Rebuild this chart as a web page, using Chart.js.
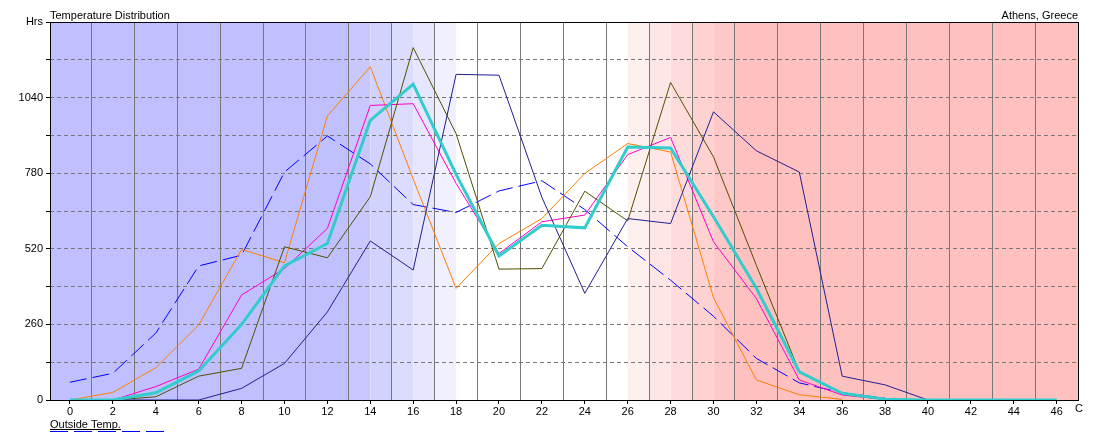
<!DOCTYPE html>
<html>
<head>
<meta charset="utf-8">
<title>Temperature Distribution</title>
<script src="https://cdn.jsdelivr.net/npm/chart.js@4/dist/chart.umd.min.js"></script>
<style>
  html, body { margin: 0; padding: 0; background: #fff; }
  .wrap { position: relative; width: 1094px; height: 442px; }
</style>
</head>
<body>
<div class="wrap"><canvas id="tempChart"></canvas></div>
<script>
// temperature bins (C) and hours per bin
const temps = [0, 2, 4, 6, 8, 10, 12, 14, 16, 18, 20, 22, 24, 26, 28, 30, 32, 34, 36, 38, 40, 42, 44, 46];

const blueHrs    = [61, 92, 230, 461, 498, 784, 908, 812, 672, 645, 719, 754, 655, 527, 412, 288, 143, 59, 25, 6, null, null, null, null];
const orangeHrs  = [0, 26, 111, 258, 518, 472, 977, 1146, 760, 384, 538, 624, 779, 882, 853, 352, 69, 18, 2, null, null, null, null, null];
const magentaHrs = [null, 0, 46, 106, 361, 452, 590, 1013, 1019, 745, 504, 613, 636, 844, 903, 544, 349, 69, 17, 2, null, null, null, null];
const cyanHrs    = [0, 0, 25, 100, 260, 461, 538, 962, 1086, 776, 495, 601, 592, 870, 867, 630, 384, 97, 23, 3, 0, 0, 0, 0];
const oliveHrs   = [null, 0, 11, 82, 109, 527, 489, 699, 1212, 916, 450, 452, 718, 616, 1092, 836, 463, 97, 20, 2, null, null, null, null];
const navyHrs    = [null, 0, 0, 0, 40, 126, 303, 547, 447, 1120, 1117, 697, 367, 624, 607, 991, 857, 784, 82, 52, 0, null, null, null];

// background comfort bands (C)
const bandFrom   = [-2, 13, 14, 15, 16, 17, 26, 27, 28, 29, 30, 31];
const bandTo     = [13, 14, 15, 16, 17, 18, 27, 28, 29, 30, 31, 50];
const bandColors = ["#C0C0FF", "#C8C8FF", "#D2D2FF", "#DCDCFF", "#E6E6FF", "#F0F0FF",
                    "#FFF0F0", "#FFE6E6", "#FFDCDC", "#FFD2D2", "#FFC8C8", "#FFC0C0"];

const legendSwatches = 5;

const pts = (arr) => temps.map((t, i) => ({ x: t, y: arr[i] }));

const series = (data, color, extra) => Object.assign({
  data: pts(data),
  borderColor: color,
  backgroundColor: color,
  borderWidth: 1,
  pointRadius: 0,
  tension: 0,
  fill: false,
  spanGaps: false,
}, extra || {});

const FONT = "'Liberation Sans', Arial, sans-serif";
Chart.defaults.font.family = FONT;
Chart.defaults.font.size = 11;
Chart.defaults.color = "#000";

const backdrop = {
  id: "backdrop",
  beforeDraw(chart) {
    const { ctx, chartArea: a, scales } = chart;
    ctx.save();
    ctx.fillStyle = "#fff";
    ctx.fillRect(0, 0, chart.width, chart.height);
    for (let i = 0; i < bandColors.length; i++) {
      let x1 = Math.max(a.left, scales.x.getPixelForValue(bandFrom[i]));
      let x2 = Math.min(a.right, scales.x.getPixelForValue(bandTo[i]));
      if (x2 <= x1) continue;
      ctx.fillStyle = bandColors[i];
      ctx.fillRect(x1, a.top, x2 - x1, a.bottom - a.top);
    }
    ctx.restore();
  },
};

const frame = {
  id: "frame",
  afterDraw(chart) {
    const { ctx, chartArea: a } = chart;
    ctx.save();
    ctx.strokeStyle = "#000";
    ctx.lineWidth = 1;
    ctx.strokeRect(Math.round(a.left) + 0.5, Math.round(a.top) + 0.5,
      Math.round(a.right - a.left) - 1, Math.round(a.bottom - a.top));

    ctx.font = "11px " + FONT;
    ctx.fillStyle = "#000";
    ctx.textBaseline = "alphabetic";
    ctx.textAlign = "left";
    ctx.fillText("Temperature Distribution", 50, 19);
    ctx.textAlign = "right";
    ctx.fillText("Athens, Greece", 1078, 19);
    ctx.textAlign = "left";
    ctx.fillText("C", 1075, 412);

    const lbl = "Outside Temp.";
    ctx.fillText(lbl, 50, 428);
    const w = ctx.measureText(lbl).width;
    ctx.fillRect(50, 429, w, 1);
    ctx.fillStyle = "#0000FF";
    for (let i = 0; i < legendSwatches; i++) {
      ctx.fillRect(50 + i * 24, 431, 18, 1);
    }
    ctx.restore();
  },
};

new Chart(document.getElementById("tempChart"), {
  type: "line",
  data: {
    datasets: [
      series(cyanHrs, "#33CCCC", { borderWidth: 3 }),
      series(navyHrs, "#202090"),
      series(oliveHrs, "#505000"),
      series(magentaHrs, "#FF00CC"),
      series(orangeHrs, "#FF8000"),
      series(blueHrs, "#0000FF", { borderDash: [17, 6] }),
    ],
  },
  options: {
    responsive: true,
    maintainAspectRatio: false,
    animation: false,
    layout: { padding: { top: 22, right: 15, left: 0, bottom: 0 } },
    plugins: { legend: { display: false }, tooltip: { enabled: false } },
    scales: {
      x: {
        type: "linear",
        min: -0.932,
        max: 47.04,
        afterFit: (s) => { s.height = 42; },
        border: { display: false },
        grid: {
          color: (c) => (c.tick && Math.abs(c.tick.value % 2) === 1 ? "#787878" : "rgba(0,0,0,0)"),
          tickColor: (c) => (c.tick && c.tick.value % 2 === 0 ? "#000" : "rgba(0,0,0,0)"),
          tickLength: 4,
          lineWidth: 1,
        },
        ticks: {
          stepSize: 1,
          autoSkip: false,
          includeBounds: false,
          maxRotation: 0,
          padding: 1,
          callback: (v) => (v % 2 === 0 ? String(v) : ""),
        },
      },
      y: {
        min: 0,
        max: 1300,
        afterFit: (s) => { s.width = 50; },
        border: { display: false, dash: [4, 3] },
        grid: {
          color: (c) => (c.tick && (c.tick.value === 0 || c.tick.value === 1300) ? "rgba(0,0,0,0)" : "#787878"),
          tickColor: "#000",
          tickLength: 4,
          tickBorderDash: [],
        },
        ticks: {
          stepSize: 130,
          autoSkip: false,
          padding: 3,
          callback: (v) => (v === 1300 ? "Hrs" : v % 260 === 0 ? String(v) : ""),
        },
      },
    },
  },
  plugins: [backdrop, frame],
});
</script>
</body>
</html>
